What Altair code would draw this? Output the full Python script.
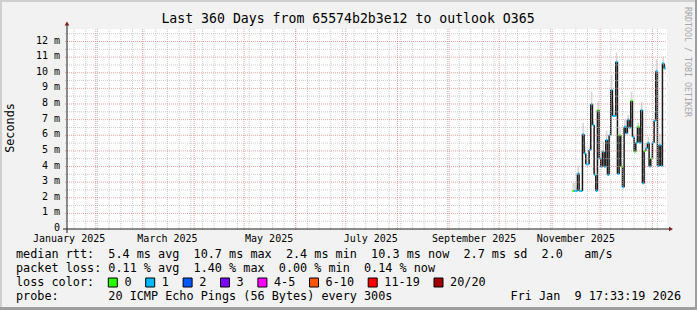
import altair as alt
import pandas as pd

# ---------------- data ----------------
dates = [
    "2025-11-14", "2025-11-15", "2025-11-16", "2025-11-17", "2025-11-18", "2025-11-19",
    "2025-11-20", "2025-11-21", "2025-11-22", "2025-11-23", "2025-11-24", "2025-11-25",
    "2025-11-26", "2025-11-27", "2025-11-28", "2025-11-29", "2025-11-30", "2025-12-01",
    "2025-12-02", "2025-12-03", "2025-12-04", "2025-12-05", "2025-12-06", "2025-12-07",
    "2025-12-08", "2025-12-09", "2025-12-10", "2025-12-11", "2025-12-12", "2025-12-13",
    "2025-12-14", "2025-12-15", "2025-12-16", "2025-12-17", "2025-12-18", "2025-12-19",
    "2025-12-20", "2025-12-21", "2025-12-22", "2025-12-23", "2025-12-24", "2025-12-25",
    "2025-12-26", "2025-12-27", "2025-12-28", "2025-12-29", "2025-12-30", "2025-12-31",
    "2026-01-01", "2026-01-02", "2026-01-03", "2026-01-04", "2026-01-05", "2026-01-06",
    "2026-01-07", "2026-01-08",
]
median_ms = [
    2.43, 2.43, 2.43, 3.55, 2.43, 2.43,
    6.06, 4.84, 4.14, 4.14, 5.05, 7.98,
    6.65, 3.45, 2.43, 7.60, 4.52, 3.99,
    4.95, 3.99, 5.70, 3.45, 6.00, 8.90,
    7.23, 7.23, 10.70, 3.52, 6.00, 4.00,
    2.67, 6.55, 6.12, 7.00, 6.48, 8.21,
    5.90, 4.95, 5.52, 6.55, 5.52, 7.61,
    2.92, 5.00, 5.16, 5.52, 4.00, 4.52,
    5.52, 6.93, 10.10, 4.03, 5.37, 4.03,
    10.60, 10.28,
]
loss_level = [
    0, 1, 1, 1, 1, 1,
    1, 1, 1, 1, 1, 1,
    1, 1, 1, 0, 1, 1,
    1, 1, 1, 1, 1, 1,
    1, 1, 1, 1, 0, 0,
    1, 1, 1, 1, 1, 0,
    1, 0, 1, 0, 1, 1,
    1, 0, 1, 1, 1, 0,
    1, 1, 1, 1, 1, 1,
    1, 1,
]
smoke_top_ms = [
    2.94, 2.94, 2.70, 4.00, 2.60, 2.60,
    6.80, 5.30, 4.40, 4.40, 5.40, 8.80,
    6.90, 3.90, 2.60, 8.20, 4.80, 4.20,
    5.60, 4.20, 6.30, 3.70, 6.30, 9.85,
    7.90, 7.60, 11.30, 3.80, 6.50, 4.20,
    2.80, 7.00, 6.30, 7.30, 6.70, 8.79,
    6.10, 5.10, 5.80, 6.80, 5.70, 8.15,
    3.10, 5.50, 5.30, 5.90, 4.20, 4.70,
    5.70, 7.50, 10.85, 4.20, 6.10, 4.20,
    11.00, 10.50,
]

loss_labels = ["0", "1", "2", "3", "4-5", "6-10", "11-19", "20/20"]
loss_colors = ["#26ff00", "#00b8ff", "#0059ff", "#7e00ff", "#ff00ff", "#ff5500", "#ff0000", "#a10000"]

y_tick_values = [0, 1, 2, 3, 4, 5, 6, 7, 8, 9, 10, 11, 12]
y_tick_labels = ["0", "1 m", "2 m", "3 m", "4 m", "5 m", "6 m", "7 m", "8 m", "9 m", "10 m", "11 m", "12 m"]
x_label_dates = ["2025-01-16", "2025-03-16", "2025-05-16", "2025-07-16", "2025-09-16", "2025-11-16"]
x_labels = ["January 2025", "March 2025", "May 2025", "July 2025", "September 2025", "November 2025"]

title_text = "Last 360 Days from 65574b2b3e12 to outlook O365"
row_rtt = "median rtt:  5.4 ms avg  10.7 ms max  2.4 ms min  10.3 ms now  2.7 ms sd  2.0   am/s"
row_loss = "packet loss: 0.11 % avg  1.40 % max  0.00 % min  0.14 % now"
row_color = "loss color:"
row_probe = "probe:       20 ICMP Echo Pings (56 Bytes) every 300s"
stamp = "Fri Jan  9 17:33:19 2026"

# ---------------- frames ----------------
df = pd.DataFrame({"date": dates, "median": median_ms, "loss": loss_level, "smoke": smoke_top_ms})
df["end"] = (pd.to_datetime(df["date"]) + pd.Timedelta(days=1)).dt.strftime("%Y-%m-%d")
df["prev"] = df["median"].shift(1).fillna(df["median"])
df["color"] = [loss_colors[i] for i in df["loss"]]

weeks = pd.DataFrame({"d": pd.date_range("2025-01-19", "2026-01-04", freq="7D").strftime("%Y-%m-%d")})
months = pd.DataFrame({"d": pd.date_range("2025-02-01", "2026-01-01", freq="MS").strftime("%Y-%m-%d")})
minor_h = pd.DataFrame({"v": [i + 0.5 for i in range(13)]})
major_h = pd.DataFrame({"v": y_tick_values[1:]})
ylab = pd.DataFrame({"v": y_tick_values, "t": [s.replace(" ", "\u00a0") for s in y_tick_labels]})
xlab = pd.DataFrame({"d": x_label_dates, "t": x_labels})

W, H = 600, 200
MONO = "DejaVu Sans Mono"
xscale = alt.Scale(type="utc", domain=[
    alt.DateTime(year=2025, month=1, date=14, hours=17, minutes=33, seconds=19, utc=True),
    alt.DateTime(year=2026, month=1, date=9, hours=17, minutes=33, seconds=19, utc=True)])
yscale = alt.Scale(domain=[0, 12.8], nice=False, zero=True)


def X(f):
    return alt.X(f"{f}:T", scale=xscale, axis=None)


def Y(f):
    return alt.Y(f"{f}:Q", scale=yscale, axis=None)


def txt(s, x, y, size=11.8, align="left", angle=0, color="#000000"):
    return alt.Chart(alt.Data(values=[{}])).mark_text(
        text=s.replace(" ", "\u00a0"), align=align, baseline="middle", fontSize=size,
        font=MONO, angle=angle, color=color
    ).encode(x=alt.value(x), y=alt.value(y))


def box(x, x2, y, y2, color, stroke=None):
    kw = dict(color=color)
    if stroke:
        kw = dict(fill=color, stroke=stroke, strokeWidth=1)
    return alt.Chart(alt.Data(values=[{}])).mark_rect(**kw).encode(
        x=alt.value(x), x2=alt.value(x2), y=alt.value(y), y2=alt.value(y2))


base = alt.Chart(df)
smoke = base.mark_rect(color="#d8d8d8").encode(x=X("date"), x2="end:T", y=Y("median"), y2="smoke:Q")
verts = base.mark_rule(color="#1a1a1a", strokeWidth=1.5).encode(x=X("date"), y=Y("prev"), y2="median:Q")
horiz = base.mark_rule(strokeWidth=2).encode(x=X("date"), x2="end:T", y=Y("median"),
                                             color=alt.Color("color:N", scale=None))

GRID = "#b4b4b4"
MGRID = "#e27272"
g_minor_v = alt.Chart(weeks).mark_rule(color=GRID, strokeDash=[1, 1], opacity=0.7).encode(
    x=X("d"), y=alt.value(0), y2=alt.value(H + 2))
g_major_v = alt.Chart(months).mark_rule(color=MGRID, strokeDash=[1, 1], opacity=0.65).encode(
    x=X("d"), y=alt.value(0), y2=alt.value(H + 2))
g_minor_h = alt.Chart(minor_h).mark_rule(color=GRID, strokeDash=[1, 1], opacity=0.7).encode(
    y=Y("v"), x=alt.value(-2), x2=alt.value(W))
g_major_h = alt.Chart(major_h).mark_rule(color=MGRID, strokeDash=[1, 1], opacity=0.65).encode(
    y=Y("v"), x=alt.value(-2), x2=alt.value(W))

AXIS = "#1f1f1f"
ARROW = "#801f1f"
y_axis = alt.Chart(alt.Data(values=[{}])).mark_rule(color=AXIS, strokeWidth=1).encode(
    x=alt.value(0), y=alt.value(H + 4), y2=alt.value(-4))
x_axis = alt.Chart(alt.Data(values=[{}])).mark_rule(color=AXIS, strokeWidth=1).encode(
    y=alt.value(H), x=alt.value(-4), x2=alt.value(W + 3))
arrow_up = alt.Chart(alt.Data(values=[{}])).mark_point(shape="triangle-up", filled=True, color=ARROW,
                                                      size=22, opacity=1).encode(
    x=alt.value(0), y=alt.value(-5.5))
arrow_right = alt.Chart(alt.Data(values=[{}])).mark_point(shape="triangle-right", filled=True, color=ARROW,
                                                         size=22, opacity=1).encode(
    x=alt.value(W + 4), y=alt.value(H))

ylabels = alt.Chart(ylab).mark_text(align="right", baseline="middle", font=MONO, fontSize=10, dy=-1,
                                    color="#000000").encode(y=Y("v"), x=alt.value(-7), text="t:N")
xlabels = alt.Chart(xlab).mark_text(align="center", baseline="middle", font=MONO, fontSize=10,
                                    color="#000000").encode(x=X("d"), y=alt.value(H + 9.5), text="t:N")

OX, OY = 67, 29  # plot origin in the page
CW = 7.1  # monospace advance at legend size
layers = [smoke, verts, horiz, g_minor_v, g_minor_h, g_major_v, g_major_h,
          y_axis, x_axis, arrow_up, arrow_right, ylabels, xlabels]

# title, y title, watermark
layers.append(txt(title_text, 348 - OX, 19 - OY, size=13.2, align="center"))
layers.append(txt("Seconds", 10 - OX, 128 - OY, size=11.8, align="center", angle=270))
layers.append(txt("RRDTOOL / TOBI OETIKER", 687 - OX, 62 - OY, size=8.3, align="center", angle=90,
                  color="#a8a8a8"))

# legend rows
layers.append(txt(row_rtt, 16 - OX, 254 - OY))
layers.append(txt(row_loss, 16 - OX, 268 - OY))
layers.append(txt(row_color, 16 - OX, 282 - OY))
layers.append(txt(row_probe, 16 - OX, 296 - OY))
layers.append(txt(stamp, 681 - OX, 296 - OY, align="right"))

bx = 16 + 13 * CW
for lab, col in zip(loss_labels, loss_colors):
    layers.append(box(bx - OX, bx + 9 - OX, 278 - OY, 287 - OY, col, stroke="#000000"))
    layers.append(txt(lab, bx + 9 + CW - OX, 282 - OY))
    bx += 9 + CW * (len(lab) + 3)

# 3-D frame of the picture
TW, TH = 697, 310
layers.append(box(-OX, TW - OX, -OY, -OY + 2, "#cfcfcf"))
layers.append(box(-OX, -OX + 2, -OY, TH - OY, "#cfcfcf"))
layers.append(box(-OX, TW - OX, TH - OY - 3, TH - OY, "#9e9e9e"))
layers.append(box(TW - OX - 2, TW - OX, -OY, TH - OY, "#9e9e9e"))

chart = alt.layer(*layers).properties(
    width=W, height=H, autosize="none",
    padding={"left": OX, "top": OY, "right": TW - OX - W, "bottom": TH - OY - H},
    background="#f2f2f2",
).configure_view(fill="white", strokeWidth=0)

chart.save("out.html", embed_options={"renderer": "svg", "actions": False})
